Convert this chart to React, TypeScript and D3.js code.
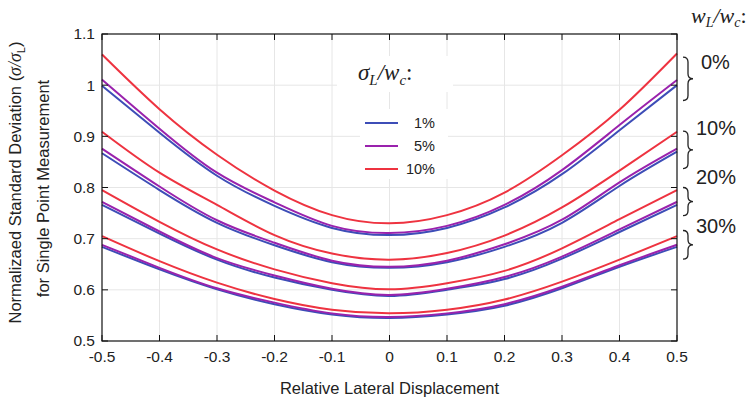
import * as d3 from 'd3';

// relative lateral displacement (sample positions)
const xs = [-0.5, -0.4, -0.3, -0.2, -0.1, 0, 0.1, 0.2, 0.3, 0.4, 0.5];

// wL/wc = 0%
const blue0 = [0.999, 0.907, 0.823, 0.764, 0.721, 0.707, 0.721, 0.761, 0.826, 0.912, 1.0];
const purple0 = [1.011, 0.915, 0.829, 0.771, 0.725, 0.711, 0.725, 0.766, 0.834, 0.922, 1.01];
const red0 = [1.06, 0.953, 0.864, 0.794, 0.746, 0.73, 0.746, 0.79, 0.863, 0.952, 1.062];
// wL/wc = 10%
const blue10 = [0.867, 0.795, 0.731, 0.687, 0.654, 0.643, 0.654, 0.684, 0.731, 0.803, 0.87];
const purple10 = [0.876, 0.802, 0.736, 0.692, 0.657, 0.645, 0.657, 0.689, 0.737, 0.81, 0.876];
const red10 = [0.909, 0.829, 0.766, 0.707, 0.671, 0.659, 0.672, 0.706, 0.761, 0.833, 0.909];
// wL/wc = 20%
const blue20 = [0.766, 0.71, 0.659, 0.624, 0.6, 0.588, 0.6, 0.621, 0.661, 0.713, 0.766];
const purple20 = [0.772, 0.714, 0.662, 0.628, 0.602, 0.59, 0.602, 0.625, 0.665, 0.718, 0.772];
const red20 = [0.795, 0.733, 0.679, 0.64, 0.613, 0.601, 0.613, 0.637, 0.681, 0.738, 0.795];
// wL/wc = 30%
const blue30 = [0.684, 0.64, 0.601, 0.572, 0.552, 0.545, 0.552, 0.569, 0.603, 0.645, 0.684];
const purple30 = [0.688, 0.643, 0.603, 0.575, 0.554, 0.547, 0.554, 0.572, 0.606, 0.648, 0.688];
const red30 = [0.705, 0.656, 0.614, 0.582, 0.561, 0.554, 0.561, 0.581, 0.616, 0.659, 0.705];

const sigmaLabels = ['1%', '5%', '10%'];
const sigmaColors = ['#3d4db7', '#9a22ad', '#ee3340'];
const groupLabels = ['0%', '10%', '20%', '30%'];
const groups = [
  [blue0, purple0, red0],
  [blue10, purple10, red10],
  [blue20, purple20, red20],
  [blue30, purple30, red30],
];
// brace spans (top, bottom) in data units, and label centre
const braceSpans = [[1.055, 0.97], [0.91, 0.837], [0.8, 0.745], [0.716, 0.66]];
const braceLabelY = [1.045, 0.917, 0.82, 0.725];

const xTicks = [-0.5, -0.4, -0.3, -0.2, -0.1, 0, 0.1, 0.2, 0.3, 0.4, 0.5];
const yTicks = [0.5, 0.6, 0.7, 0.8, 0.9, 1, 1.1];

const W = 755;
const H = 401;
const m = { left: 102, right: 78, top: 34, bottom: 60 };

function bracePath(x: number, y1: number, y2: number, w: number) {
  const ym = (y1 + y2) / 2;
  const r = w / 2;
  return `M${x},${y1} Q${x + r},${y1} ${x + r},${y1 + r} L${x + r},${ym - r} Q${x + r},${ym} ${x + w},${ym}` +
    ` Q${x + r},${ym} ${x + r},${ym + r} L${x + r},${y2 - r} Q${x + r},${y2} ${x},${y2}`;
}

export default function App() {
  const x = d3.scaleLinear().domain([-0.5, 0.5]).range([m.left, W - m.right]);
  const y = d3.scaleLinear().domain([0.5, 1.1]).range([H - m.bottom, m.top]);

  const line = d3.line<number>()
    .x((_, i) => x(xs[i]))
    .y(d => y(d))
    .curve(d3.curveNatural);

  const font = 'Liberation Sans, Arial, sans-serif';
  const mathFont = 'Liberation Serif, DejaVu Serif, serif';
  const x0 = m.left, x1 = W - m.right, y0 = H - m.bottom, y1 = m.top;

  return (
    <svg width={W} height={H} style={{ position: 'absolute', left: 0, top: 0, background: '#fff' }}>
      {/* grid */}
      <g stroke="#e6e6e6" strokeWidth={1}>
        {xTicks.slice(1, -1).map(t => <line key={'gx' + t} x1={x(t)} x2={x(t)} y1={y1} y2={y0} />)}
        {yTicks.slice(1, -1).map(t => <line key={'gy' + t} x1={x0} x2={x1} y1={y(t)} y2={y(t)} />)}
      </g>

      {/* title box and legend background */}
      <rect x={337} y={56} width={116} height={36} fill="#fff" />
      <text x={358} y={80} fontFamily={mathFont} fontStyle="italic" fontSize={23} fill="#222">
        σ<tspan fontSize={15} dy={5}>L</tspan><tspan dy={-5}>/w</tspan><tspan fontSize={15} dy={5}>c</tspan><tspan dy={-5} fontStyle="normal">:</tspan>
      </text>
      <rect x={360} y={109} width={88} height={70} fill="#fff" />
      {sigmaLabels.map((s, i) => (
        <g key={s}>
          <line x1={365} x2={398} y1={123 + i * 23} y2={123 + i * 23} stroke={sigmaColors[i]} strokeWidth={2} />
          <text x={435} y={123 + i * 23} dy="0.35em" textAnchor="end" fontFamily={font} fontSize={14.5} fill="#222">{s}</text>
        </g>
      ))}

      {/* curves */}
      <g fill="none" strokeWidth={2}>
        {groups.map((g, gi) => g.map((vals, si) => (
          <path key={gi + '-' + si} d={line(vals) || ''} stroke={sigmaColors[si]} />
        )))}
      </g>

      {/* axes box and ticks */}
      <rect x={x0} y={y1} width={x1 - x0} height={y0 - y1} fill="none" stroke="#111" strokeWidth={1.2} />
      <g stroke="#111" strokeWidth={1}>
        {xTicks.map(t => (
          <g key={'tx' + t}>
            <line x1={x(t)} x2={x(t)} y1={y0} y2={y0 - 6} />
            <line x1={x(t)} x2={x(t)} y1={y1} y2={y1 + 6} />
          </g>
        ))}
        {yTicks.map(t => (
          <g key={'ty' + t}>
            <line x1={x0} x2={x0 + 6} y1={y(t)} y2={y(t)} />
            <line x1={x1} x2={x1 - 6} y1={y(t)} y2={y(t)} />
          </g>
        ))}
      </g>
      <g fontFamily={font} fill="#222">
        {xTicks.map(t => (
          <text key={'lx' + t} x={x(t)} y={y0 + 16} dy="0.35em" textAnchor="middle" fontSize={15.5}>{String(t)}</text>
        ))}
        {yTicks.map(t => (
          <text key={'ly' + t} x={x0 - 7} y={y(t)} dy="0.35em" textAnchor="end" fontSize={15.5}>{String(t)}</text>
        ))}
        <text x={(x0 + x1) / 2} y={394} textAnchor="middle" fontSize={16.5}>Relative Lateral Displacement</text>
        <text transform={`translate(15,${(y0 + y1) / 2 - 5}) rotate(-90)`} dy="0.35em" textAnchor="middle" fontSize={16.5}>
          Normalizaed Standard Deviation (<tspan fontFamily={mathFont} fontStyle="italic" fontSize={18}>σ/σ</tspan><tspan fontSize={11} dy={4}>L</tspan><tspan dy={-4}>)</tspan>
        </text>
        <text transform={`translate(43,${(y0 + y1) / 2 + 1}) rotate(-90)`} dy="0.35em" textAnchor="middle" fontSize={16.5}>for Single Point Measurement</text>
      </g>

      {/* right annotations */}
      <text x={691} y={23} fontFamily={mathFont} fontStyle="italic" fontSize={22} fill="#222">
        w<tspan fontSize={14} dy={4}>L</tspan><tspan dy={-4}>/w</tspan><tspan fontSize={14} dy={4}>c</tspan><tspan dy={-4} fontStyle="normal">:</tspan>
      </text>
      {braceSpans.map((b, i) => (
        <g key={'br' + i}>
          <path d={bracePath(683, y(b[0]), y(b[1]), 10)} fill="none" stroke="#222" strokeWidth={1.3} />
          <text x={i === 0 ? 701 : 696} y={y(braceLabelY[i])} dy="0.35em" fontFamily={font} fontSize={20} fill="#222">{groupLabels[i]}</text>
        </g>
      ))}
    </svg>
  );
}
